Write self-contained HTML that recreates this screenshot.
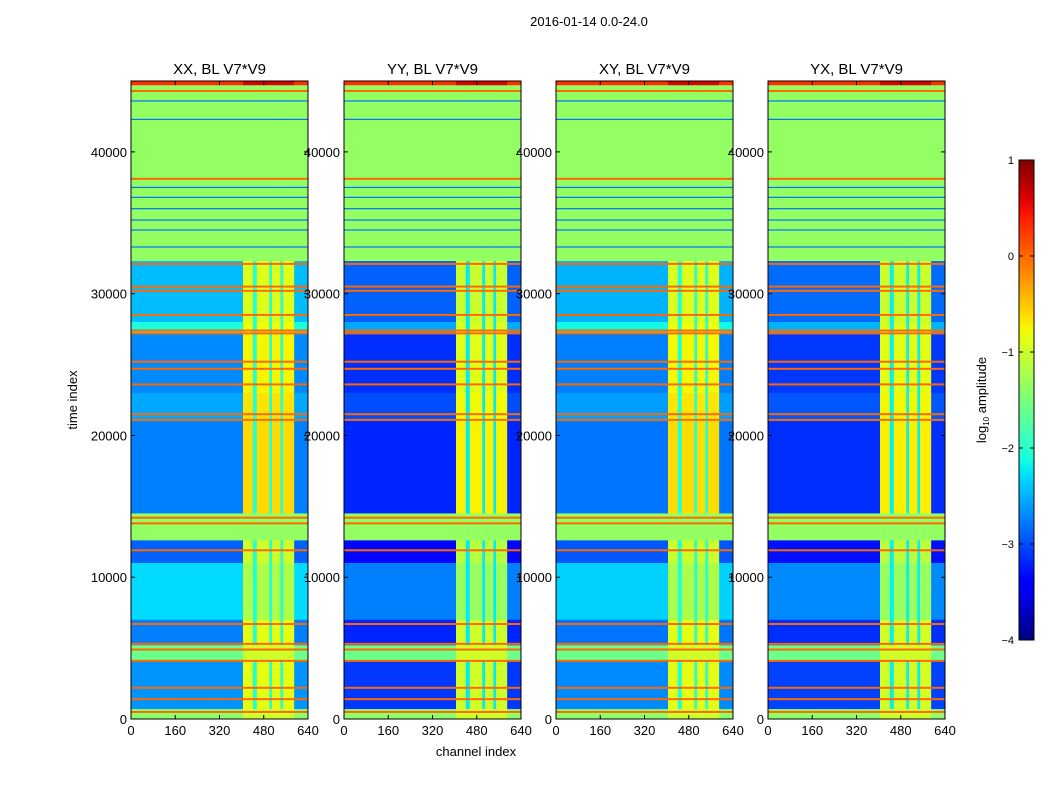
<!DOCTYPE html>
<html><head><meta charset="utf-8">
<style>
body{margin:0;background:#fff;}
svg{display:block;font-family:"Liberation Sans","DejaVu Sans",sans-serif;}
</style></head>
<body>
<svg id="fig" width="1050" height="800" viewBox="0 0 1050 800">
<text x="589" y="26" font-size="13" text-anchor="middle">2016-01-14 0.0-24.0</text>
<text x="476" y="756" font-size="13" text-anchor="middle">channel index</text>
<text transform="translate(77,400) rotate(-90)" font-size="13" text-anchor="middle">time index</text>
<g id="panels"></g>
<g id="cbar"></g>
</svg>
<script>
// ---- data ----
const panelTitles = ["XX, BL V7*V9","YY, BL V7*V9","XY, BL V7*V9","YX, BL V7*V9"];
const panelOffset = [0, -0.45, -0.05, -0.4];
const segStart = [44700,38200,32300,28000,27200,23000,21000,14500,12600,11000,7000,5200,4100,700,0];
const segEnd   = [45000,44700,38200,32300,28000,27200,23000,21000,14500,12600,11000,7000,5200,4100,700];
const segBg    = [0.3,-1.35,-1.35,-2.45,-2.1,-2.7,-2.55,-2.75,-1.35,-2.9,-2.3,-2.75,-1.6,-2.65,-1.4];
const segRfi   = [0.6,-1.35,-1.35,-0.9,-0.8,-0.75,-0.65,-0.6,-1.35,-1.0,-1.2,-0.85,-1.0,-0.85,-1.0];
const segFlag  = [1,1,1,0,0,0,0,0,1,0,0,0,1,0,1];
const colStart = [0,405,440,455,500,510,540,550,590];
const colEnd   = [405,440,455,500,510,540,550,590,640];
const colKind  = ["bg","rfi","gap","rfi","gap","rfi","gap","rfi","bg"];
const orangeLines = [44300,38100,32100,30500,30200,28500,27400,27200,25200,24700,23600,21500,21100,14200,13800,11900,6700,5300,4900,4100,2200,1400,500];
const blueLines = [43600,42300,37500,36800,36000,35200,34500,33300];
const xTicks = [0,160,320,480,640];
const yTicks = [0,10000,20000,30000,40000];
const cbTicks = [1,0,-1,-2,-3,-4];

// ---- helpers ----
const NS="http://www.w3.org/2000/svg";
function interp(pts,t){for(let i=1;i<pts.length;i++){if(t<=pts[i][0]){const a=pts[i-1],b=pts[i];return a[1]+(b[1]-a[1])*(t-a[0])/(b[0]-a[0]);}}return pts[pts.length-1][1];}
const RP=[[0,0],[0.35,0],[0.66,1],[0.89,1],[1,0.5]];
const GP=[[0,0],[0.125,0],[0.375,1],[0.64,1],[0.91,0],[1,0]];
const BP=[[0,0.5],[0.11,1],[0.34,1],[0.65,0],[1,0]];
function jet(v){
  let t=(v+4)/5; t=Math.max(0,Math.min(1,t));
  return `rgb(${Math.round(interp(RP,t)*255)},${Math.round(interp(GP,t)*255)},${Math.round(interp(BP,t)*255)})`;
}
function mk(tag,attrs,parent){const e=document.createElementNS(NS,tag);for(const k in attrs)e.setAttribute(k,attrs[k]);parent.appendChild(e);return e;}
const panelX=[131,344,556,768], PW=177, PT=81, PB=719, TMAX=45000, CMAX=640;
const panels=document.getElementById('panels');

panelX.forEach((x0,p)=>{
  const g=mk('g',{},panels);
  
  
  const sx=c=>x0+c/CMAX*PW;
  const sy=t=>PB-t/TMAX*(PB-PT);
  for(let s=0;s<segStart.length;s++){
    for(let c=0;c<colStart.length;c++){
      let v;
      if(segFlag[s]) v = colKind[c]==="bg"?segBg[s]:segRfi[s];
      else if(colKind[c]==="bg") v=segBg[s]+panelOffset[p];
      else if(colKind[c]==="rfi") v=segRfi[s]+panelOffset[p]*0.3;
      else v=-2.0+panelOffset[p]*0.5;
      const r=mk('rect',{x:sx(colStart[c]),y:sy(segEnd[s]),width:sx(colEnd[c])-sx(colStart[c])+0.3,height:sy(segStart[s])-sy(segEnd[s])+0.3,fill:jet(v)},g);
      
      
    }
  }
  orangeLines.forEach(t=>{
    const r=mk('rect',{x:x0,y:sy(t)-1,width:PW,height:2,fill:jet(0.0)},g);
    
    
  });
  blueLines.forEach(t=>{
    const r=mk('rect',{x:x0,y:sy(t)-0.5,width:PW,height:1.2,fill:jet(-2.8)},g);
    
    
  });
  mk('rect',{x:x0,y:PT,width:PW,height:PB-PT,fill:'none',stroke:'#000','stroke-width':1},g);
  const tt=mk('text',{x:x0+PW/2,y:74,'font-size':15,'text-anchor':'middle'},g);
  tt.textContent=panelTitles[p];
  
  
  xTicks.forEach(v=>{
    mk('line',{x1:sx(v),x2:sx(v),y1:PB,y2:PB-4,stroke:'#000'},g);
    mk('line',{x1:sx(v),x2:sx(v),y1:PT,y2:PT+4,stroke:'#000'},g);
    const t=mk('text',{x:sx(v),y:PB+16,'font-size':13,'text-anchor':'middle'},g);
    t.textContent=v;
    
    
  });
  yTicks.forEach(v=>{
    mk('line',{x1:x0,x2:x0+4,y1:sy(v),y2:sy(v),stroke:'#000'},g);
    mk('line',{x1:x0+PW,x2:x0+PW-4,y1:sy(v),y2:sy(v),stroke:'#000'},g);
    const t=mk('text',{x:x0-4,y:sy(v)+5,'font-size':13,'text-anchor':'end'},g);
    t.textContent=v;
    
    
  });
});

// colorbar
const cb=document.getElementById('cbar');
const CX=1019,CW=15,CT=160,CB=640;
const defs=mk('defs',{},cb);
const grad=mk('linearGradient',{id:'jetg',x1:0,y1:1,x2:0,y2:0},defs);
for(let i=0;i<=40;i++){const v=-4+i*0.125;mk('stop',{offset:(i/40),'stop-color':jet(v)},grad);}
mk('rect',{x:CX,y:CT,width:CW,height:CB-CT,fill:'url(#jetg)',stroke:'#000','stroke-width':1},cb);
cbTicks.forEach(v=>{
  const y=CB-(v+4)/5*(CB-CT);
  mk('line',{x1:CX,x2:CX+4,y1:y,y2:y,stroke:'#000'},cb);
  mk('line',{x1:CX+CW,x2:CX+CW-4,y1:y,y2:y,stroke:'#000'},cb);
  const t=mk('text',{x:CX-5,y:y+4,'font-size':11,'text-anchor':'end'},cb);
  t.textContent=v<0?'\u2212'+(-v):String(v);
  
  
});
const cl=mk('text',{transform:'translate(986,400) rotate(-90)','font-size':13,'text-anchor':'middle'},cb);
cl.innerHTML='log<tspan font-size="8" dy="3">10</tspan><tspan dy="-3"> amplitude</tspan>';


</script>
</body></html>
